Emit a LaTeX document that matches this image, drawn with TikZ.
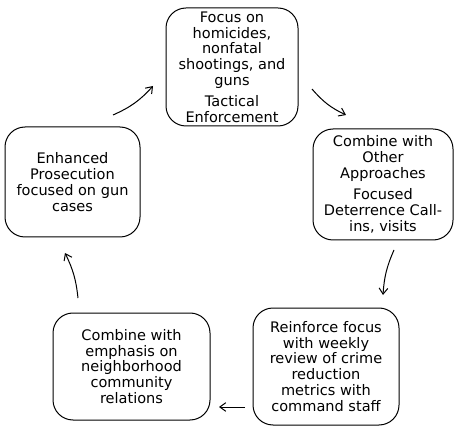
\documentclass[tikz,border=0pt]{standalone}
\usepackage{fontspec}
\setmainfont{DejaVu Sans}
\usetikzlibrary{arrows.meta}

\tikzset{every picture/.style={line width=0.75pt}}
\tikzset{
  stage/.style={draw, rounded corners=15pt, align=center, inner sep=1pt,
    font=\fontsize{10.9}{11.9}\selectfont},
  flow/.style={-{Straight Barb[length=4.5pt,width=6.5pt]}}
}

\begin{document}
\begin{tikzpicture}[x=0.75pt,y=0.75pt,yscale=-1,xscale=1]
	\useasboundingbox (0,0) rectangle (471,438);
	
	% Stage Nodes
	\node [stage, minimum width=99pt, minimum height=88.5pt] (tactical) at (232,67)
		{Focus on\\homicides,\\nonfatal\\shootings, and\\guns\\[3.5pt]Tactical\\Enforcement};
	\node [stage, minimum width=105pt, minimum height=83.25pt] (deterrence) at (383,184.5)
		{Combine with\\Other\\Approaches\\[4pt]Focused\\Deterrence Call-\\ins, visits};
	\node [stage, minimum width=109.5pt, minimum height=87.75pt] (review) at (326,366.5)
		{Reinforce focus\\with weekly\\review of crime\\reduction\\metrics with\\command staff};
	\node [stage, minimum width=117.75pt, minimum height=80.25pt] (community) at (131.5,366.5)
		{Combine with\\emphasis on\\neighborhood\\community\\relations};
	\node [stage, minimum width=101.25pt, minimum height=82.5pt] (prosecution) at (72.5,182)
		{Enhanced\\Prosecution\\focused on gun\\cases};
	
	% Arrow ends
	\coordinate (a1) at (113,115);
	\coordinate (b1) at (153,86);
	\coordinate (a2) at (312,89);
	\coordinate (b2) at (346,115);
	\coordinate (a3) at (394,250);
	\coordinate (b3) at (383,295);
	\coordinate (a4) at (245,407);
	\coordinate (b4) at (219,407);
	\coordinate (a5) at (78,298);
	\coordinate (b5) at (65,253);
	
	% Cycle Arrows
	\draw [flow] (a1) to [bend left=12] (b1);
	\draw [flow] (a2) to [bend left=12] (b2);
	\draw [flow] (a3) to [bend left=10] (b3);
	\draw [flow] (a4) -- (b4);
	\draw [flow] (a5) to [bend left=10] (b5);
	
\end{tikzpicture}
\end{document}
